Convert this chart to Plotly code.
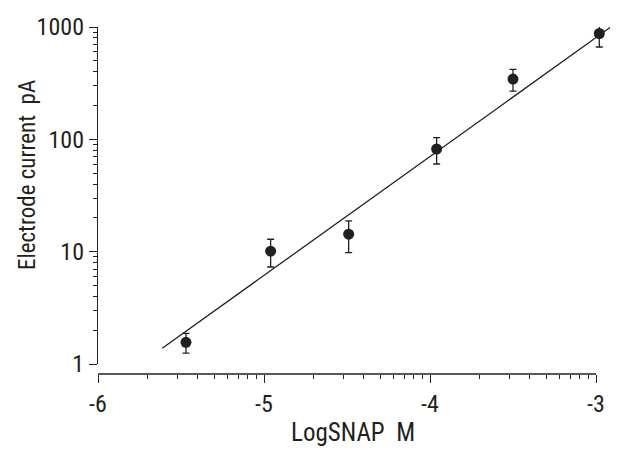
import plotly.graph_objects as go

# Data (x in log10 molar, y in pA)
log_snap = [-5.47, -4.96, -4.49, -3.96, -3.50, -2.98]
current_pa = [1.56, 10.1, 14.3, 82.0, 344.0, 875.0]
current_err = [0.31, 2.8, 4.5, 21.7, 75.0, 211.0]

fit_log_snap = [-5.613, -2.85]
fit_current = [1.38, 1160.0]

x_tick_logs = [-6, -5, -4, -3]
x_tick_text = ["-6", "-5", "-4", "-3"]
y_tick_vals = [1, 10, 100, 1000]
y_tick_text = ["1", "10", "100", "1000"]

FONT = "Liberation Sans Narrow, Arial Narrow, Roboto Condensed, Liberation Sans, sans-serif"
INK = "#231f20"

x_vals = [10 ** v for v in log_snap]
fit_x = [10 ** v for v in fit_log_snap]
x_major = [10 ** v for v in x_tick_logs]
x_minor = [m * 10 ** d for d in x_tick_logs[:-1] for m in range(2, 10)]
y_minor = [m * v for v in y_tick_vals[:-1] for m in range(2, 10)]

fig = go.Figure()
fig.add_trace(go.Scatter(
    x=fit_x, y=fit_current, mode="lines",
    line=dict(color=INK, width=1.3), showlegend=False, hoverinfo="skip"))
fig.add_trace(go.Scatter(
    x=x_vals, y=current_pa, mode="markers",
    marker=dict(color=INK, size=11, symbol="circle"),
    error_y=dict(type="data", array=current_err, visible=True,
                 color=INK, thickness=1.3, width=3.5),
    showlegend=False))

# the page places the figure 8px in from the top-left corner
OFF = 8
W, H = 618, 464
L, T = 98 - OFF, 27 - OFF
RIGHT_EDGE = 618 - OFF          # plot reaches the visible right edge
BOTTOM = 374 - OFF              # x-axis line
R, B = W - RIGHT_EDGE, H - BOTTOM
pw, ph = W - L - R, H - T - B


def px(x):
    return (x - OFF - L) / pw


def py(y):
    return (BOTTOM - (y - OFF)) / ph


fig.update_layout(
    width=W, height=H,
    margin=dict(l=L, r=R, t=T, b=B, autoexpand=False),
    paper_bgcolor="white", plot_bgcolor="white",
    font=dict(family=FONT, size=24, color=INK),
    xaxis=dict(
        type="log", range=[-6, -6 + pw / 166.0],
        tickmode="array", tickvals=x_major, ticktext=x_tick_text,
        ticks="outside", ticklen=8, tickwidth=1.4, tickcolor=INK,
        showline=False, showgrid=False, zeroline=False,
        anchor="free", position=0, automargin=False,
        minor=dict(tickmode="array", tickvals=x_minor, ticks="outside",
                   ticklen=4, tickwidth=1.2, tickcolor=INK, showgrid=False),
        tickfont=dict(family=FONT, size=24, color=INK),
    ),
    yaxis=dict(
        type="log", range=[0, 3], domain=[10 / ph, 1], automargin=False,
        tickmode="array", tickvals=y_tick_vals, ticktext=y_tick_text,
        ticks="outside", ticklen=8, tickwidth=1.4, tickcolor=INK,
        showline=True, linecolor=INK, linewidth=1.4,
        showgrid=False, zeroline=False,
        minor=dict(tickmode="array", tickvals=y_minor, ticks="outside",
                   ticklen=4, tickwidth=1.2, tickcolor=INK, showgrid=False),
        tickfont=dict(family=FONT, size=24, color=INK),
    ),
    shapes=[dict(type="line", xref="x", yref="paper",
                 x0=x_major[0], x1=x_major[-1], y0=0, y1=0,
                 line=dict(color=INK, width=1.4))],
    annotations=[
        dict(text="LogSNAP  M", xref="paper", yref="paper",
             x=px(353), y=py(432),
             xanchor="center", yanchor="middle", showarrow=False,
             font=dict(family=FONT, size=25, color=INK)),
        dict(text="Electrode current  pA", xref="paper", yref="paper",
             x=px(27), y=py(175), textangle=-90,
             xanchor="center", yanchor="middle", showarrow=False,
             font=dict(family=FONT, size=23, color=INK)),
    ],
)

fig.write_html("out.html")
